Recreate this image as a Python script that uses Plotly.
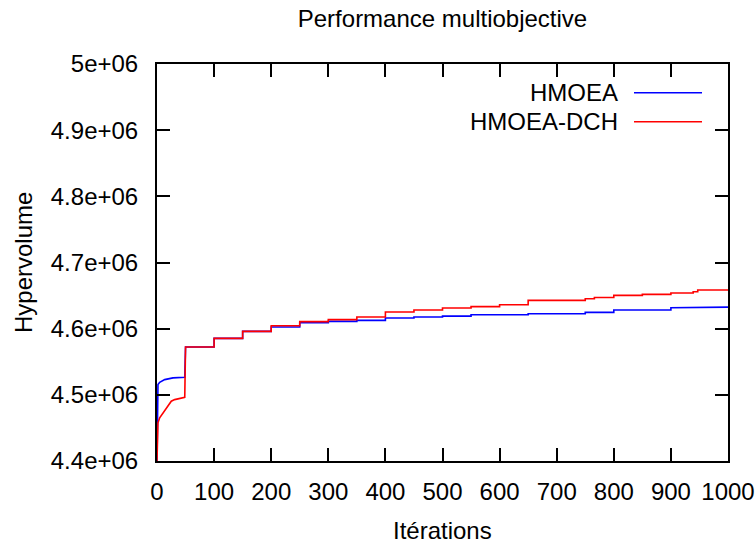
import plotly.graph_objects as go

# ---- data ----
hmoea_iter = [0, 0.5, 1.7, 4.7, 13.5, 28, 48.6, 50, 100, 100, 150, 150, 200, 200, 250, 250,
              300, 300, 350, 350, 400, 400, 450, 450, 500, 500, 550, 550, 650, 650,
              750, 750, 800, 800, 900, 900, 1000]
hmoea_hv = [4.400e6, 4.470e6, 4.5155e6, 4.519e6, 4.523e6, 4.5256e6, 4.5265e6, 4.5724e6, 4.5724e6,
            4.5854e6, 4.5854e6, 4.5959e6, 4.5959e6, 4.6026e6, 4.6026e6, 4.6091e6,
            4.6091e6, 4.6110e6, 4.6110e6, 4.6125e6, 4.6125e6, 4.6161e6, 4.6161e6, 4.6177e6,
            4.6177e6, 4.6190e6, 4.6190e6, 4.6211e6, 4.6211e6, 4.6226e6,
            4.6226e6, 4.6246e6, 4.6246e6, 4.6282e6, 4.6282e6, 4.6317e6, 4.6325e6]

dch_iter = [0, 0.5, 1.7, 4.7, 10.5, 16.4, 25, 31, 48.6, 50, 100, 100, 150, 150, 200, 200,
            250, 250, 300, 300, 350, 350, 400, 400, 450, 450, 500, 500, 550, 550,
            600, 600, 650, 650, 750, 750, 766, 766, 800, 800, 850, 850, 900, 900,
            939, 939, 947, 947, 1000]
dch_hv = [4.400e6, 4.440e6, 4.4577e6, 4.4652e6, 4.4728e6, 4.4788e6, 4.4903e6, 4.4928e6, 4.4963e6,
          4.5724e6, 4.5724e6, 4.5854e6, 4.5854e6, 4.5959e6, 4.5959e6, 4.6045e6,
          4.6045e6, 4.6106e6, 4.6106e6, 4.6136e6, 4.6136e6, 4.6177e6, 4.6177e6, 4.6252e6,
          4.6252e6, 4.6282e6, 4.6282e6, 4.6312e6, 4.6312e6, 4.6333e6,
          4.6333e6, 4.6362e6, 4.6362e6, 4.6427e6, 4.6427e6, 4.6453e6, 4.6453e6, 4.6472e6,
          4.6472e6, 4.6503e6, 4.6503e6, 4.6518e6, 4.6518e6, 4.6539e6,
          4.6539e6, 4.6558e6, 4.6558e6, 4.6584e6, 4.6584e6]

series_names = ["HMOEA", "HMOEA-DCH"]
series_colors = ["#0000ff", "#ff0000"]

x_ticks = [0, 100, 200, 300, 400, 500, 600, 700, 800, 900, 1000]
y_ticks = [4.4e6, 4.5e6, 4.6e6, 4.7e6, 4.8e6, 4.9e6, 5.0e6]
y_tick_text = ["4.4e+06", "4.5e+06", "4.6e+06", "4.7e+06", "4.8e+06", "4.9e+06", "5e+06"]

FONT = "Liberation Sans, Arial, sans-serif"
FS = 24
W, H = 756, 544
L, R, T, B = 157, 28, 64, 83

fig = go.Figure()
fig.add_trace(go.Scatter(x=hmoea_iter, y=hmoea_hv, mode="lines", name=series_names[0],
                         line=dict(color=series_colors[0], width=1.6), showlegend=False))
fig.add_trace(go.Scatter(x=dch_iter, y=dch_hv, mode="lines", name=series_names[1],
                         line=dict(color=series_colors[1], width=1.6), showlegend=False))

axis_common = dict(showgrid=False, zeroline=False, showline=True, linecolor="black", linewidth=2,
                   mirror="ticks", ticks="inside", ticklen=13, tickwidth=1.5, tickcolor="black",
                   automargin=False,
                   tickfont=dict(family=FONT, size=FS, color="black"))

fig.update_xaxes(range=[0, 1000], tickvals=x_ticks, ticklabelstandoff=8, **axis_common)
fig.update_yaxes(range=[4.4e6, 5.0e6], tickvals=y_ticks, ticktext=y_tick_text,
                 ticklabelstandoff=12, **axis_common)

# legend drawn gnuplot style: right-aligned text, sample line to the right
pw = W - L - R
ph = H - T - B
legend_rows_y = [92.7, 121.7]
for i, (name, col) in enumerate(zip(series_names, series_colors)):
    ypap = 1 - (legend_rows_y[i] - T) / ph
    fig.add_annotation(x=(620 - L) / pw, y=ypap, xref="paper", yref="paper", text=name,
                       showarrow=False, xanchor="right", yanchor="middle",
                       font=dict(family=FONT, size=FS, color="black"))
    fig.add_shape(type="line", xref="paper", yref="paper",
                  x0=(634 - L) / pw, x1=(702 - L) / pw, y0=ypap, y1=ypap,
                  line=dict(color=col, width=1.6))

fig.add_annotation(x=0.5, y=1 - (545 - T) / ph, xref="paper", yref="paper", text="Itérations",
                   showarrow=False, xanchor="center", yanchor="bottom", borderpad=0,
                   font=dict(family=FONT, size=FS, color="black"))
fig.add_annotation(x=(23.5 - L) / pw, y=0.5, xref="paper", yref="paper", text="Hypervolume",
                   showarrow=False, xanchor="center", yanchor="middle", textangle=-90,
                   font=dict(family=FONT, size=FS, color="black"))

fig.update_layout(
    width=W, height=H,
    margin=dict(l=L, r=R, t=T, b=B),
    paper_bgcolor="white", plot_bgcolor="white",
    title=dict(text="Performance multiobjective", x=0.5, xref="paper",
               y=1 - 19 / H, yref="container", xanchor="center", yanchor="middle",
               font=dict(family=FONT, size=FS, color="black")),
    showlegend=False,
)

fig.write_html("out.html", config={"displayModeBar": False, "responsive": False},
               post_script="document.body.style.margin='0';document.body.style.overflow='hidden';")
